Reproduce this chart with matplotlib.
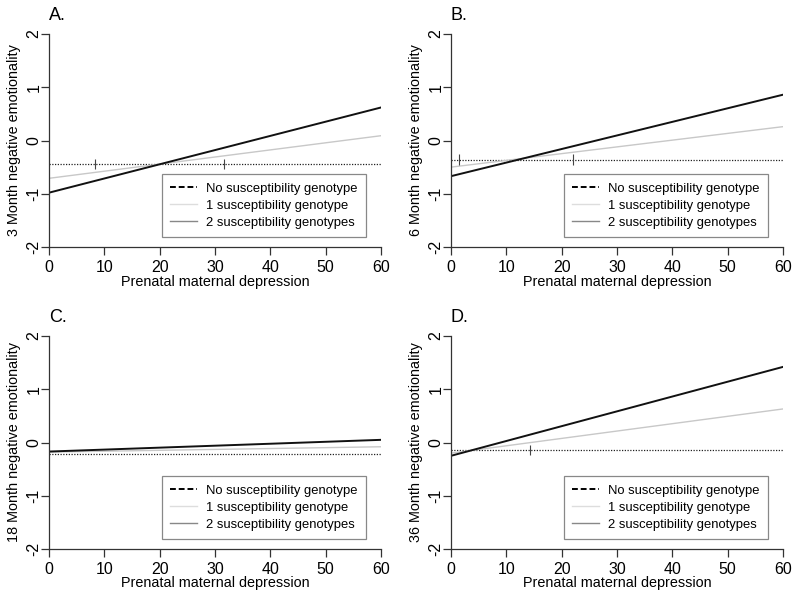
import numpy as np
import matplotlib
matplotlib.use("Agg")
import matplotlib.pyplot as plt
from matplotlib.lines import Line2D

plt.rcParams['font.family'] = ['Liberation Sans', 'DejaVu Sans']
plt.rcParams['axes.unicode_minus'] = False

panels = ["A.", "B.", "C.", "D."]
ylabels = ["3 Month negative emotionality", "6 Month negative emotionality",
           "18 Month negative emotionality", "36 Month negative emotionality"]
x_range = [0, 60]
# no susceptibility genotype (flat), values at x=0 and x=60
none_vals = [(-0.44, -0.44), (-0.36, -0.36), (-0.21, -0.21), (-0.14, -0.14)]
# 1 susceptibility genotype
one_vals = [(-0.71, 0.09), (-0.50, 0.26), (-0.18, -0.08), (-0.20, 0.63)]
# 2 susceptibility genotypes
two_vals = [(-0.98, 0.62), (-0.67, 0.86), (-0.17, 0.05), (-0.25, 1.42)]
# regions-of-significance markers on the flat line
marks = [[8.4, 31.7], [1.4, 22.1], [], [14.3]]
xticks = [0, 10, 20, 30, 40, 50, 60]
yticks = [-2, -1, 0, 1, 2]
ytick_labels = ["-2", "-1", "0", "1", "2"]
legend_labels = ["No susceptibility genotype", "1 susceptibility genotype",
                 "2 susceptibility genotypes"]

fig = plt.figure(figsize=(8.0, 5.97), dpi=100)
W, H = 800, 597
boxes = [(49, 381, 34, 247), (451, 783, 34, 247),
         (49, 381, 336, 549), (451, 783, 336, 549)]

axis_col = "#333333"
for i in range(4):
    l, r, t, b = boxes[i]
    aw = r - l
    ax = fig.add_axes([l / W, 1 - b / H, aw / W, (b - t) / H])
    ax.plot(x_range, none_vals[i], color="#222222", lw=0.9, ls=(0, (1, 1.2)))
    ax.plot(x_range, one_vals[i], color="#c8c8c8", lw=1.0)
    ax.plot(x_range, two_vals[i], color="#111111", lw=1.4)
    for m in marks[i]:
        ax.vlines(m, none_vals[i][0] - 0.1, none_vals[i][0] + 0.1, color="#444444", lw=0.8)
    ax.set_xlim(0, 60)
    ax.set_ylim(-2, 2)
    ax.set_xticks(xticks)
    ax.set_yticks(yticks)
    ax.set_yticklabels([])
    trans = ax.get_yaxis_transform()
    for v, s in zip(yticks, ytick_labels):
        ax.text(-15 / aw, v, s, rotation=90, ha="center", va="center",
                fontsize=11.5, transform=trans)
    for s in ["top", "right"]:
        ax.spines[s].set_visible(False)
    for s in ["left", "bottom"]:
        ax.spines[s].set_color(axis_col)
        ax.spines[s].set_linewidth(0.9)
    ax.tick_params(direction="out", length=6, width=0.9, color=axis_col,
                   labelsize=11.5)
    ax.tick_params(axis="x", pad=3)
    ax.set_xlabel("Prenatal maternal depression", fontsize=10.4, labelpad=0)
    ax.text(-35 / aw, 0.5, ylabels[i], rotation=90, ha="center", va="center",
            fontsize=10.4, transform=ax.transAxes)
    ax.text(0.0, 1.066, panels[i], fontsize=13, ha="left", va="baseline",
            transform=ax.transAxes)
    handles = [Line2D([], [], color="black", lw=1.4, ls=(0, (3, 1.5))),
               Line2D([], [], color="#dddddd", lw=1.0),
               Line2D([], [], color="#888888", lw=1.0)]
    leg = ax.legend(handles, legend_labels, loc="lower right",
                    bbox_to_anchor=(0.954, 0.046), borderaxespad=0,
                    fontsize=9.4, fancybox=False, framealpha=1,
                    edgecolor="#888888", handlelength=2.0, labelspacing=0.36,
                    borderpad=0.65, handletextpad=0.7)
    leg.get_frame().set_linewidth(0.9)

fig.savefig("out.png", dpi=100)
